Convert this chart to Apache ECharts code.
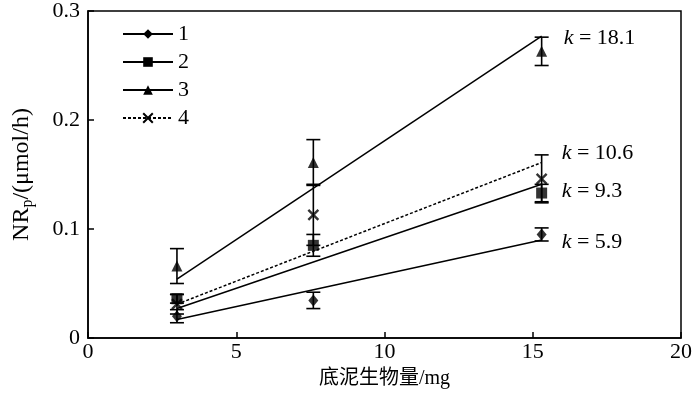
<!DOCTYPE html>
<html>
<head>
<meta charset="utf-8">
<script src="https://cdn.jsdelivr.net/npm/echarts@6/dist/echarts.min.js"></script>
<style>html,body{margin:0;padding:0;background:#fff;}#c{width:700px;height:399px;}</style>
</head>
<body>
<div id="c"></div>
<script>
// ---- data ----
const seriesNames = ['1', '2', '3', '4'];
const xValues = [3.0, 7.6, 15.3];
const means1 = [0.020, 0.0345, 0.095];
const errs1  = [0.006, 0.0075, 0.006];
const means2 = [0.036, 0.085, 0.133];
const errs2  = [0.004, 0.010, 0.008];
const means3 = [0.066, 0.161, 0.263];
const errs3  = [0.016, 0.021, 0.013];
const means4 = [0.031, 0.113, 0.146];
const errs4  = [0.009, 0.028, 0.022];
const fitX = [3.0, 15.3];
const fit1 = [0.017, 0.090];
const fit2 = [0.027, 0.141];
const fit3 = [0.054, 0.277];
const fit4 = [0.031, 0.161];
const kValues = ['5.9', '9.3', '18.1', '10.6'];
const xTicks = [0, 5, 10, 15, 20];
const yTicks = [0, 0.1, 0.2, 0.3];

const FONT = '"Liberation Serif", "Noto Sans CJK SC", serif';
const means = [means1, means2, means3, means4];
const errs = [errs1, errs2, errs3, errs4];
const fits = [fit1, fit2, fit3, fit4];
const symbols = ['diamond', 'rect', 'triangle', 'path://M0,0L10,10M10,0L0,10'];
const symSizes = [[10, 12], 11, [11, 11], 10];
const labelOffsets = [[0, 2], [0, 7], [0, 2], [0, -9]];
const labelDist = [20, 20, 22, 20];

const chart = echarts.init(document.getElementById('c'), null, {renderer: 'canvas'});

const series = [];
seriesNames.forEach((name, si) => {
  const isX = si === 3;
  // fit line (legend entry)
  series.push({
    name: name,
    type: 'line',
    symbol: symbols[si],
    symbolSize: symSizes[si],
    showSymbol: false,
    itemStyle: isX ? {color: '#000', borderColor: '#000', borderWidth: 1.6} : {color: '#000'},
    lineStyle: {color: '#000', width: 1.5, type: isX ? [3, 2] : 'solid'},
    data: fitX.map((x, i) => [x, fits[si][i]]),
    z: 3,
    silent: true,
    endLabel: {
      show: true,
      formatter: '{i|k} = ' + kValues[si],
      distance: labelDist[si],
      offset: labelOffsets[si],
      color: '#000',
      fontFamily: FONT,
      fontSize: 22,
      rich: {i: {fontStyle: 'italic', fontFamily: FONT, fontSize: 22, color: '#000'}}
    },
    animation: false
  });
  // error bars
  series.push({
    name: 'err' + name,
    type: 'custom',
    data: xValues.map((x, i) => [x, means[si][i] - errs[si][i], means[si][i] + errs[si][i]]),
    encode: {x: 0, y: [1, 2]},
    z: 4,
    renderItem: function (params, api) {
      const x = api.value(0);
      const pLo = api.coord([x, api.value(1)]);
      const pHi = api.coord([x, api.value(2)]);
      const w = 7;
      const st = {stroke: '#000', lineWidth: 1.6};
      return {
        type: 'group',
        children: [
          {type: 'line', shape: {x1: pLo[0], y1: pLo[1], x2: pHi[0], y2: pHi[1]}, style: st},
          {type: 'line', shape: {x1: pLo[0] - w, y1: pLo[1], x2: pLo[0] + w, y2: pLo[1]}, style: st},
          {type: 'line', shape: {x1: pHi[0] - w, y1: pHi[1], x2: pHi[0] + w, y2: pHi[1]}, style: st}
        ]
      };
    },
    animation: false
  });
  // markers
  series.push({
    name: 'pt' + name,
    type: 'scatter',
    symbol: symbols[si],
    symbolSize: symSizes[si],
    itemStyle: isX ? {color: '#000', borderColor: '#000', borderWidth: 2.4} : {color: '#000'},
    data: xValues.map((x, i) => [x, means[si][i]]),
    z: 5,
    animation: false
  });
});

chart.setOption({
  backgroundColor: '#fff',
  animation: false,
  grid: {left: 86, right: 19, top: 11, bottom: 61, show: true, borderColor: '#000', borderWidth: 1.5, backgroundColor: 'transparent'},
  legend: {
    data: seriesNames,
    orient: 'vertical',
    left: 122,
    top: 23,
    padding: 0,
    itemWidth: 50,
    itemHeight: 12,
    itemGap: 6,
    textStyle: {fontFamily: FONT, fontSize: 22, color: '#000'},
    selectedMode: false
  },
  xAxis: {
    type: 'value',
    min: xTicks[0],
    max: xTicks[xTicks.length - 1],
    interval: xTicks[1] - xTicks[0],
    name: '底泥生物量/mg',
    nameLocation: 'middle',
    nameGap: 31,
    nameTextStyle: {fontFamily: FONT, fontSize: 20, color: '#000'},
    axisLine: {lineStyle: {color: '#000', width: 1.5}},
    axisTick: {inside: true, length: 6, lineStyle: {color: '#000', width: 1.5}},
    axisLabel: {fontFamily: FONT, fontSize: 22, color: '#000', margin: 3},
    splitLine: {show: false}
  },
  yAxis: {
    type: 'value',
    min: yTicks[0],
    max: yTicks[yTicks.length - 1],
    interval: 0.1,
    name: '{a|NR}{s|p}{a|/(μmol/h)}',
    nameLocation: 'middle',
    nameGap: 52,
    nameTextStyle: {
      fontFamily: FONT, fontSize: 24, color: '#000',
      rich: {
        a: {fontFamily: FONT, fontSize: 24, color: '#000', lineHeight: 28},
        s: {fontFamily: FONT, fontSize: 16, color: '#000', lineHeight: 28, padding: [12, 0, 0, 0]}
      }
    },
    axisLine: {lineStyle: {color: '#000', width: 1.5}},
    axisTick: {inside: true, length: 6, lineStyle: {color: '#000', width: 1.5}},
    axisLabel: {fontFamily: FONT, fontSize: 22, color: '#000', margin: 8,
      formatter: v => (v === 0 ? '0' : v.toFixed(1))},
    splitLine: {show: false}
  },
  series: series
});
</script>
</body>
</html>
